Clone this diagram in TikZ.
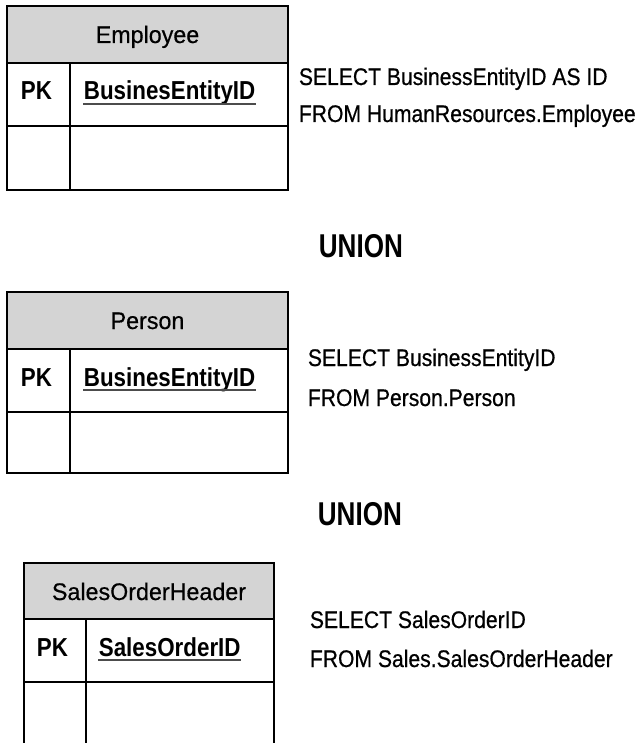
\documentclass[tikz,border=0pt]{standalone}
\usepackage{fontspec}
\setmainfont{Liberation Sans}
\newfontfamily\sqlfont{Liberation Sans}[FakeStretch=0.88,FakeBold=0.6]
\newfontfamily\keyfont{Liberation Sans}[FakeStretch=0.86]
\newfontfamily\titlefont{Liberation Sans}[FakeStretch=0.97,FakeBold=0.5]
\newfontfamily\unionfont{Liberation Sans}[FakeStretch=0.79]

\begin{document}
\begin{tikzpicture}[x=1pt,y=-1pt,line width=1.8pt,
  hdr/.style={fill=black!17},
  title/.style={font=\titlefont\fontsize{24}{28}\selectfont,inner sep=0pt,anchor=base},
  key/.style={font=\keyfont\bfseries\fontsize{26}{30}\selectfont,inner sep=0pt,anchor=base west},
  sql/.style={font=\sqlfont\fontsize{24}{28}\selectfont,inner sep=0pt,anchor=base west},
  union/.style={font=\unionfont\bfseries\fontsize{33}{38}\selectfont,inner sep=0pt,anchor=base west},
  uline/.style={line width=1.5pt,black!70}]
  \useasboundingbox (0,0) rectangle (641,743);
  % Employee
  \fill[hdr] (7,6) rectangle (288,63);
  \draw (7,6) rectangle (288,190);
  \draw (7,63) -- (288,63) (7,126) -- (288,126) (70,63) -- (70,190);
  \node[title] (emp) at (147.5,43) {Employee};
  \node[key] (emppk) at (20,100) {PK};
  \node[key] (empid) at (83,100) {BusinesEntityID};
  \draw[uline] ([yshift=-4pt]empid.base west) -- ([yshift=-4pt]empid.base east);
  \node[sql] (empsel) at (298,85) {SELECT BusinessEntityID AS ID};
  \node[sql] (empfrom) at (298,122) {FROM HumanResources.Employee};
  \node[union] (union1) at (318,257) {UNION};
  % Person
  \fill[hdr] (7,292) rectangle (288,349);
  \draw (7,292) rectangle (288,473);
  \draw (7,349) -- (288,349) (7,412) -- (288,412) (70,349) -- (70,473);
  \node[title] (per) at (147.5,329) {Person};
  \node[key] (perpk) at (20,386) {PK};
  \node[key] (perid) at (83,386) {BusinesEntityID};
  \draw[uline] ([yshift=-4pt]perid.base west) -- ([yshift=-4pt]perid.base east);
  \node[sql] (persel) at (307,366) {SELECT BusinessEntityID};
  \node[sql] (perfrom) at (307,406) {FROM Person.Person};
  \node[union] (union2) at (317,525) {UNION};
  % SalesOrderHeader, cut at the bottom
  \fill[hdr] (24,563) rectangle (274,619);
  \draw (24,743) -- (24,563) -- (274,563) -- (274,743);
  \draw (24,619) -- (274,619) (24,682) -- (274,682) (86,619) -- (86,743);
  \node[title] (soh) at (149,600) {SalesOrderHeader};
  \node[key] (sohpk) at (36,656) {PK};
  \node[key] (sohid) at (98,656) {SalesOrderID};
  \draw[uline] ([yshift=-4pt]sohid.base west) -- ([yshift=-4pt]sohid.base east);
  \node[sql] (sohsel) at (309,628) {SELECT SalesOrderID};
  \node[sql] (sohfrom) at (309,667) {FROM Sales.SalesOrderHeader};
\end{tikzpicture}
\end{document}
